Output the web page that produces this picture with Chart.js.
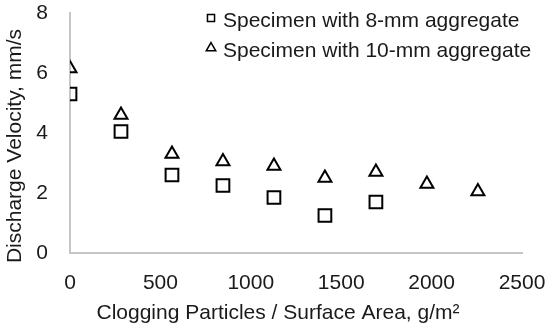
<!DOCTYPE html>
<html>
<head>
<meta charset="utf-8">
<script src="https://cdn.jsdelivr.net/npm/chart.js@4"></script>
<style>
  html, body { margin: 0; padding: 0; background: #fff; }
  #wrap { width: 550px; height: 332px; position: relative; }
</style>
</head>
<body>
<div id="wrap"><canvas id="grafico"></canvas></div>
<script>
// values
const particulas8 = [0, 282, 564, 846, 1128, 1410, 1692];
const velocidade8 = [5.3, 4.05, 2.6, 2.25, 1.85, 1.25, 1.7];
const particulas10 = [0, 282, 564, 846, 1128, 1410, 1692, 1974, 2256];
const velocidade10 = [6.15, 4.6, 3.3, 3.05, 2.9, 2.5, 2.7, 2.3, 2.05];
const nomes = ['Specimen with 8-mm aggregate', 'Specimen with 10-mm aggregate'];
const xTicks = [0, 500, 1000, 1500, 2000, 2500];
const yTicks = [0, 2, 4, 6, 8];
const tituloX = 'Clogging Particles / Surface Area, g/m²';
const tituloY = 'Discharge Velocity, mm/s';

const fonte = 'Liberation Sans, Arial, sans-serif';
const corTexto = '#1a1a1a';
const tam = 21;

function pontos(xs, ys) {
  return xs.map((x, i) => ({ x: x, y: ys[i] }));
}

// legend inside the plot (top right) + axis titles centred like Excel does
const extras = {
  id: 'extras',
  afterDraw(chart, args, opts) {
    const ctx = chart.ctx;
    ctx.save();
    ctx.font = tam + 'px ' + fonte;
    ctx.textBaseline = 'middle';
    chart.data.datasets.forEach((ds, i) => {
      const y = opts.y + i * opts.linha;
      ctx.strokeStyle = '#000';
      ctx.fillStyle = 'rgba(255,255,255,0)';
      ctx.lineWidth = 1.5;
      Chart.helpers.drawPoint(ctx, { pointStyle: ds.pointStyle, radius: opts.raio[i], borderWidth: 1.5 }, opts.x, y);
      ctx.fillStyle = corTexto;
      ctx.fillText(ds.label, opts.x + opts.gap, y + 3);
    });

    ctx.textAlign = 'center';
    ctx.fillText(tituloX, opts.tituloX[0], opts.tituloX[1]);
    ctx.translate(opts.tituloY[0], opts.tituloY[1]);
    ctx.rotate(-Math.PI / 2);
    ctx.fillText(tituloY, 0, 0);
    ctx.restore();
  }
};

const ctx = document.getElementById('grafico').getContext('2d');
const grafico = new Chart(ctx, {
  type: 'scatter',
  data: {
    datasets: [
      {
        label: nomes[0],
        data: pontos(particulas8, velocidade8),
        pointStyle: 'rect',
        pointRadius: 9,
        pointBorderWidth: 2,
        borderColor: '#000',
        backgroundColor: 'rgba(255,255,255,0)'
      },
      {
        label: nomes[1],
        data: pontos(particulas10, velocidade10),
        pointStyle: 'triangle',
        pointRadius: 7.5,
        pointBorderWidth: 2,
        borderColor: '#000',
        backgroundColor: 'rgba(255,255,255,0)'
      }
    ]
  },
  options: {
    responsive: true,
    maintainAspectRatio: false,
    animation: false,
    layout: { padding: { left: 0, right: 28, top: 13, bottom: 0 } },
    plugins: {
      legend: { display: false },
      tooltip: { enabled: false },
      extras: { x: 211, y: 18, linha: 30, gap: 12, raio: [5, 5.5], tituloX: [278, 313], tituloY: [15, 146] }
    },
    scales: {
      x: {
        type: 'linear',
        min: 0,
        max: 2500,
        afterBuildTicks: s => { s.ticks = xTicks.map(v => ({ value: v })); },
        afterFit: s => { s.height = 79; s.paddingLeft = 0; s.paddingRight = 0; },
        grid: { display: false, drawTicks: false },
        border: { display: true, color: '#c6c6c6', width: 2 },
        ticks: { color: corTexto, font: { family: fonte, size: tam }, padding: 18, maxRotation: 0, callback: v => String(v) },
        title: { display: false }
      },
      y: {
        type: 'linear',
        min: 0,
        max: 8,
        afterBuildTicks: s => { s.ticks = yTicks.map(v => ({ value: v })); },
        afterFit: s => { s.width = 70; s.paddingTop = 0; s.paddingBottom = 0; },
        grid: { display: false, drawTicks: false },
        border: { display: true, color: '#c6c6c6', width: 2 },
        ticks: { color: corTexto, font: { family: fonte, size: tam }, padding: 22, callback: v => String(v) },
        title: { display: false }
      }
    }
  },
  plugins: [extras]
});
</script>
</body>
</html>
